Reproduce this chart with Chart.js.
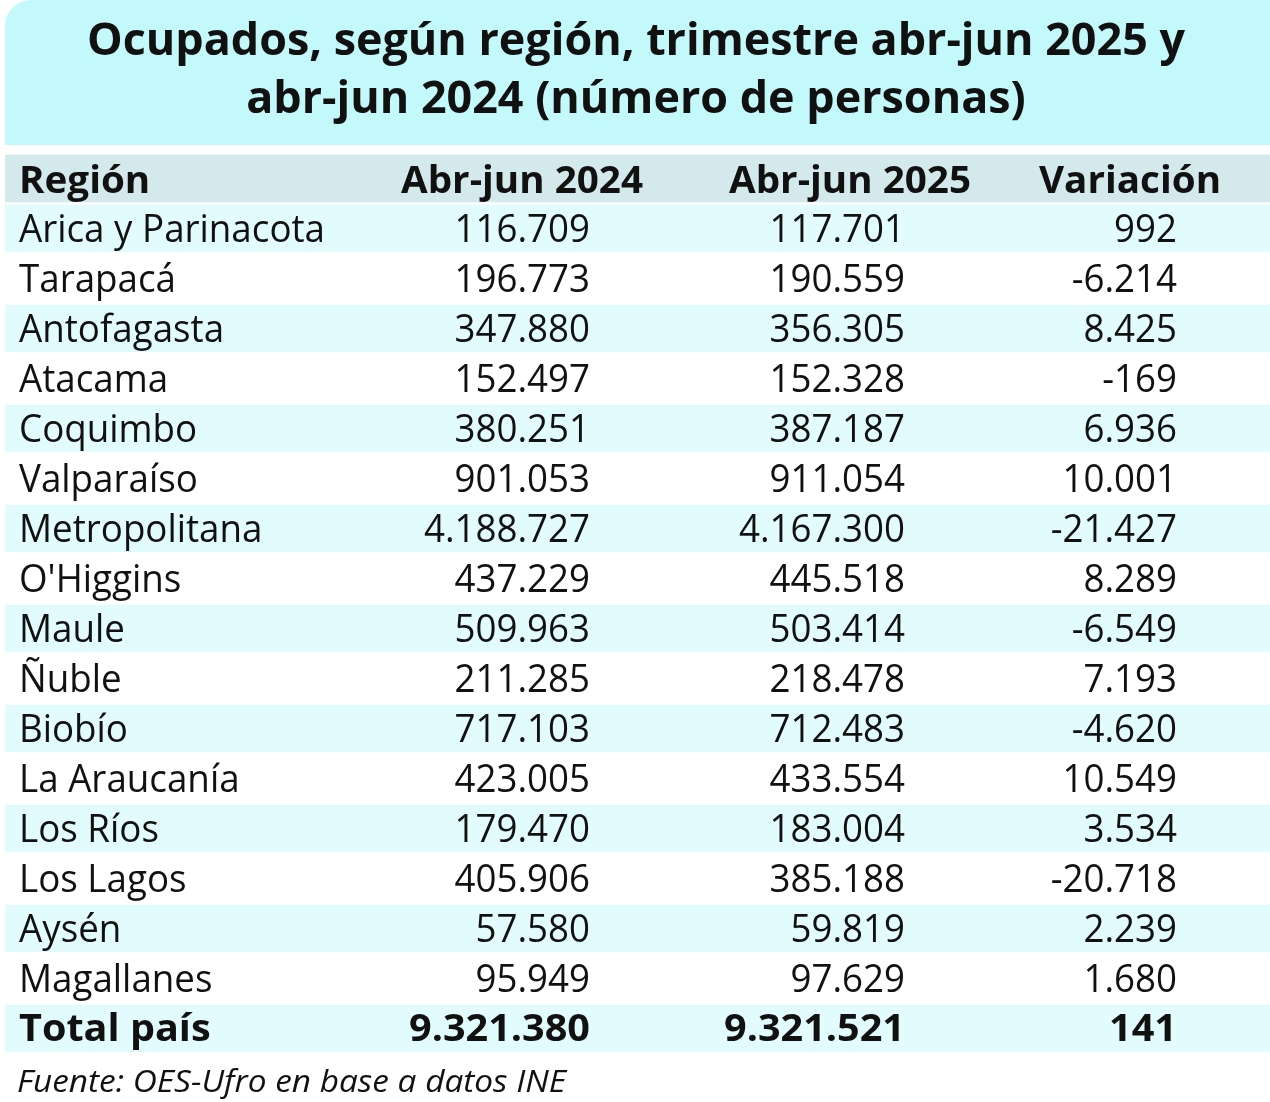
<!DOCTYPE html>
<html><head><meta charset="utf-8">
<script src="https://cdn.jsdelivr.net/npm/chart.js@4.4.1/dist/chart.umd.min.js"></script>
<style>html,body{margin:0;padding:0;background:#fff}#wrap{width:1270px;height:1102px;position:relative}</style>
</head><body><div id="wrap"><canvas id="c"></canvas></div>
<script>
const titleLines = ['Ocupados, según región, trimestre abr-jun 2025 y', 'abr-jun 2024 (número de personas)'];
const headers = ['Región', 'Abr-jun 2024', 'Abr-jun 2025', 'Variación'];
const regions = ['Arica y Parinacota','Tarapacá','Antofagasta','Atacama','Coquimbo','Valparaíso','Metropolitana',"O'Higgins",'Maule','Ñuble','Biobío','La Araucanía','Los Ríos','Los Lagos','Aysén','Magallanes'];
const ocup2024 = [116709,196773,347880,152497,380251,901053,4188727,437229,509963,211285,717103,423005,179470,405906,57580,95949];
const ocup2025 = [117701,190559,356305,152328,387187,911054,4167300,445518,503414,218478,712483,433554,183004,385188,59819,97629];
const variacion = [992,-6214,8425,-169,6936,10001,-21427,8289,-6549,7193,-4620,10549,3534,-20718,2239,1680];
const totalLabel = 'Total país';
const total2024 = 9321380;
const total2025 = 9321521;
const totalVariacion = 141;
const sourceText = 'Fuente: OES-Ufro en base a datos INE';

const rowLabels = [headers[0], ...regions, totalLabel];
const col2024 = [headers[1], ...ocup2024, total2024];
const col2025 = [headers[2], ...ocup2025, total2025];
const colVar = [headers[3], ...variacion, totalVariacion];

function fmt(v){
  if (typeof v === 'string') return v;
  const s = Math.abs(v).toString().replace(/\B(?=(\d{3})+(?!\d))/g, '.');
  return (v < 0 ? '-' : '') + s;
}

const XMAX = 1265;
const COLORS = { title:'#c4f9fc', header:'#d4e9eb', band:'#e2fbfd', text:'#111111' };
const FONT = '"Open Sans", "Noto Sans", sans-serif';
const F = {
  body: '400 39px ' + FONT,
  bold: '700 38px ' + FONT,
  head: '700 37px ' + FONT,
  title: '700 45px ' + FONT,
  foot: 'italic 400 31px ' + FONT
};

const bandData = rowLabels.map((_, i) => (i === 0 || (i - 1) % 2 === 0) ? [0, XMAX] : null);
const bandColors = rowLabels.map((_, i) => i === 0 ? COLORS.header : COLORS.band);

function drawScaled(ctx, text, x, y, align, sx){
  ctx.save();
  ctx.translate(x, y);
  ctx.scale(sx, 1);
  ctx.textAlign = align;
  ctx.textBaseline = 'alphabetic';
  ctx.fillText(text, 0, 0);
  ctx.restore();
}
function fit(ctx, font, text, target){
  ctx.save(); ctx.font = font; const w = ctx.measureText(text).width; ctx.restore();
  return target / w;
}

const tablePlugin = {
  id: 'tablePlugin',
  beforeDraw(chart){
    const ctx = chart.ctx;
    ctx.save();
    ctx.fillStyle = COLORS.title;
    ctx.beginPath();
    if (ctx.roundRect) ctx.roundRect(5, 0, 1265, 145, [26, 0, 0, 0]); else ctx.rect(5, 0, 1265, 145);
    ctx.fill();
    ctx.fillStyle = COLORS.text;
    const sxT = fit(ctx, F.title, titleLines[0], 1098);
    ctx.font = F.title;
    drawScaled(ctx, titleLines[0], 636, 55, 'center', sxT);
    drawScaled(ctx, titleLines[1], 636, 113, 'center', sxT);
    ctx.restore();
  },
  afterDatasetsDraw(chart){
    const ctx = chart.ctx;
    const xs = chart.scales.x, ys = chart.scales.y;
    const xLabel = xs.getPixelForValue(14);
    const xC1 = xs.getPixelForValue(585), xC2 = xs.getPixelForValue(900), xC3 = xs.getPixelForValue(1172);
    const xH1 = xs.getPixelForValue(517), xH2 = xs.getPixelForValue(845), xH3 = xs.getPixelForValue(1125);
    const sxBody = fit(ctx, F.body, 'Arica y Parinacota', 306);
    const sxNum = fit(ctx, F.body, '4.188.727', 166);
    const sxHead = fit(ctx, F.head, 'Abr-jun 2024', 242);
    const sxBold = fit(ctx, F.bold, '9.321.380', 181);
    ctx.save();
    ctx.fillStyle = COLORS.text;
    rowLabels.forEach((lab, i) => {
      const y = ys.getPixelForValue(i) + 13;
      if (i === 0) {
        ctx.font = F.head;
        drawScaled(ctx, lab, xLabel, y + 1, 'left', sxHead);
        drawScaled(ctx, col2024[i], xH1, y + 1, 'center', sxHead);
        drawScaled(ctx, col2025[i], xH2, y + 1, 'center', sxHead);
        drawScaled(ctx, colVar[i], xH3, y + 1, 'center', sxHead);
      } else if (i === rowLabels.length - 1) {
        ctx.font = F.bold;
        drawScaled(ctx, lab, xLabel, y - 1, 'left', sxBold);
        drawScaled(ctx, fmt(col2024[i]), xC1, y - 1, 'right', sxBold);
        drawScaled(ctx, fmt(col2025[i]), xC2, y - 1, 'right', sxBold);
        drawScaled(ctx, fmt(colVar[i]), xC3, y - 1, 'right', sxBold);
      } else {
        ctx.font = F.body;
        drawScaled(ctx, lab, xLabel, y, 'left', sxBody);
        drawScaled(ctx, fmt(col2024[i]), xC1, y, 'right', sxNum);
        drawScaled(ctx, fmt(col2025[i]), xC2, y, 'right', sxNum);
        drawScaled(ctx, fmt(colVar[i]), xC3, y, 'right', sxNum);
      }
    });
    const sxF = fit(ctx, F.foot, sourceText, 549);
    ctx.font = F.foot;
    drawScaled(ctx, sourceText, 17, 1092, 'left', sxF);
    ctx.restore();
  }
};

function build(){
  new Chart(document.getElementById('c'), {
    type: 'bar',
    data: {
      labels: rowLabels,
      datasets: [{
        data: bandData,
        backgroundColor: bandColors,
        borderWidth: 0,
        barPercentage: 0.95,
        categoryPercentage: 1
      }]
    },
    options: {
      indexAxis: 'y',
      responsive: true,
      maintainAspectRatio: false,
      animation: false,
      devicePixelRatio: 1,
      layout: { padding: { top: 153.5, bottom: 48.5, left: 5, right: 0 } },
      scales: {
        x: { type: 'linear', min: 0, max: XMAX, display: false },
        y: { type: 'category', display: false, offset: true, grid: { display: false } }
      },
      plugins: { legend: { display: false }, tooltip: { enabled: false }, title: { display: false } }
    },
    plugins: [tablePlugin]
  });
}
Promise.all([
  document.fonts.load(F.body), document.fonts.load(F.bold), document.fonts.load(F.title), document.fonts.load(F.foot)
]).then(build, build);
</script>
</body></html>
